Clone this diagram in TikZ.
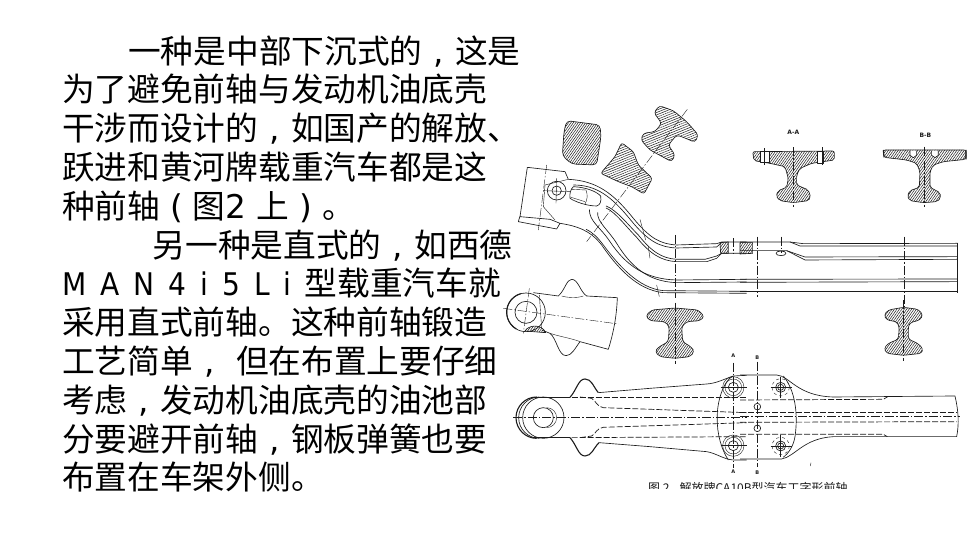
\documentclass[tikz,border=0pt]{standalone}
\usepackage{fontspec}
\setmainfont{Noto Sans CJK SC}
\newfontfamily\lat{DejaVu Sans}
\newfontfamily\latn[FakeStretch=0.9,Scale=1.2]{DejaVu Sans}
\usetikzlibrary{patterns.meta}
\newcommand\cmm{\makebox[1em][c]{\lat ,}}
\newcommand\lpn{\makebox[1em][c]{\lat (}}
\newcommand\rpn{\makebox[1em][c]{\lat )}}
\definecolor{ink}{HTML}{1C1C1C}
\tikzset{
  para/.style={anchor=base west,inner sep=0pt,font=\fontsize{32.7pt}{39pt}\selectfont,text=black},
  ln/.style={draw=ink,line width=.65pt,line join=round},
  thk/.style={draw=ink,line width=1.1pt,line join=round},
  fine/.style={draw=ink,line width=.4pt},
  cl/.style={draw=ink,line width=.4pt,dash pattern=on 9pt off 2pt on 1.5pt off 2pt},
  dsh/.style={draw=ink,line width=.7pt,dash pattern=on 6pt off 2pt},
  hatch/.style={ln,pattern={Lines[angle=55,distance=2pt,line width=.5pt]},pattern color=ink},
  hatchb/.style={ln,pattern={Lines[angle=22,distance=2.2pt,line width=.5pt]},pattern color=ink},
  lbl/.style={inner sep=0pt,font=\lat\bfseries\fontsize{5pt}{6pt}\selectfont,text=ink},
  Za/.style={shift={(500,90)},x=.3333pt,y=-.3333pt},
  Zb/.style={shift={(740,110)},x=.3333pt,y=-.3333pt},
  Zc/.style={shift={(500,270)},x=.3333pt,y=-.3333pt},
  Zd/.style={shift={(740,300)},x=.3333pt,y=-.3333pt},
}
\begin{document}
\begin{tikzpicture}[x=1pt,y=-1pt]
\useasboundingbox (0,0) rectangle (980,551);
\fill[white] (0,0) rectangle (980,551);
% text
\node[para] (t1) at (128,63.5) {一种是中部下沉式的\cmm 这是};
\node[para] (t2) at (62,102) {为了避免前轴与发动机油底壳};
\node[para] (t3) at (62,140.6) {干涉而设计的\cmm 如国产的解放、};
\node[para] (t4) at (62,179.4) {跃进和黄河牌载重汽车都是这};
\node[para] (t5) at (62,218.2) {种前轴\lpn 图{\lat 2 }上\rpn 。};
\node[para] (t6) at (152.5,257) {另一种是直式的\cmm 如西德};
\node[para] (t7) at (62,295.8) {{\latn\fontsize{26pt}{32pt}\selectfont\spaceskip=14pt M A N 4 i 5 L i}\hspace{13pt}型载重汽车就};
\node[para] (t8) at (62,334.6) {采用直式前轴。这种前轴锻造};
\node[para] (t9) at (62,373.4) {工艺简单\cmm{\lat\ }但在布置上要仔细};
\node[para] (t10) at (62,412.2) {考虑\cmm 发动机油底壳的油池部};
\node[para] (t11) at (62,451) {分要避开前轴\cmm 钢板弹簧也要};
\node[para] (t12) at (62,489.8) {布置在车架外侧。};
% upper-left sections and bent beam
\begin{scope}[Za]
\path[hatch,rounded corners=4pt] (200,92) -- (300,105) -- (303,140) -- (290,225) -- (215,222) -- (187,197) -- (192,125) -- cycle;
\path[hatchb,rounded corners=2.5pt] (365,158) -- (400,185) -- (415,225) -- (457,265) -- (432,312) -- (395,290) -- (355,275) -- (302,250) -- (345,200) -- cycle;
\path[hatchb,rounded corners=3pt] (462,68) -- (478,47) -- (520,62) -- (560,95) -- (595,135) -- (585,157) -- (550,142) -- (530,135) -- (505,165) -- (525,195) -- (515,215) -- (450,180) -- (423,150) -- (430,130) -- (465,125) -- (485,100) -- cycle;
\draw[cl] (562,58) -- (260,455);
% head
\draw[ln] (195,245) -- (82,232) -- (60,380) -- (150,388) -- (180,400) -- (170,417) -- (55,395) -- (60,378);
\draw[ln] (195,245) -- (205,268);
\draw[fine] (205,268) -- (135,285) -- (130,350) -- (165,390);
\draw[cl] (140,225) -- (115,420);
\draw[ln] (170,302) circle[radius=28];
\draw[ln] (170,302) circle[radius=14];
\draw[fine] (130,302) -- (210,305) (170,265) -- (168,340);
\draw[ln] (220,290) .. controls (260,292) and (290,305) .. (302,318) .. controls (305,335) and (300,345) .. (290,348) .. controls (260,348) and (225,335) .. (210,325) .. controls (208,310) and (212,298) .. (220,290) -- cycle;
\draw[fine] (258,300) .. controls (264,315) and (262,330) .. (255,342);
\draw[fine] (215,298) -- (258,300) (213,322) -- (255,335);
% curves: upper channel
\draw[ln] (205,268) .. controls (290,272) and (340,310) .. (400,385) .. controls (450,445) and (480,462) .. (530,465) -- (650,461) -- (665,456) -- (740,456);
\draw[ln] (220,285) .. controls (290,285) and (335,320) .. (392,390) .. controls (445,455) and (480,472) .. (530,474) -- (650,471) -- (665,458);
\draw[ln] (318,348) .. controls (350,360) and (385,405) .. (415,435) .. controls (455,485) and (485,505) .. (530,508) -- (615,508) -- (650,498) -- (665,490) -- (740,490);
\draw[ln] (318,354) .. controls (345,365) and (378,410) .. (410,442) .. controls (450,492) and (485,513) .. (530,515) -- (620,515) -- (650,505) -- (665,490);
% lower channel
\draw[ln] (268,358) .. controls (268,395) and (300,410) .. (330,455) .. controls (380,530) and (440,568) .. (530,570) -- (740,568);
\draw[ln] (293,367) .. controls (290,395) and (325,420) .. (350,460) .. controls (390,525) and (440,575) .. (530,578) -- (740,576);
\draw[ln] (180,400) .. controls (230,408) and (270,420) .. (305,465) .. controls (350,530) and (410,600) .. (490,608) -- (740,610);
\draw[ln] (258,418) .. controls (280,428) and (295,445) .. (310,465) .. controls (355,525) and (415,595) .. (490,602) -- (740,604);
\draw[fine] (420,388) -- (437,450) (445,470) -- (450,505) (470,585) -- (478,620);
\draw[cl] (527,435) -- (527,625);
\draw[cl] (700,445) -- (700,492);
\path[hatch] (660,458) -- (685,456) -- (685,490) -- (662,490) -- cycle;
\end{scope}
% straight beam + A-A B-B sections
\begin{scope}[Zb]
\node[lbl,font=\lat\bfseries\fontsize{6pt}{7pt}\selectfont] (aa) at (160,68) {A-A};
\node[lbl,font=\lat\bfseries\fontsize{6pt}{7pt}\selectfont] (bb) at (556,76) {B-B};
\path[hatch,rounded corners=2pt] (38,125) -- (283,123) -- (283,150) -- (215,160) -- (180,175) -- (170,195) -- (170,225) -- (205,240) -- (212,262) -- (205,272) -- (160,278) -- (120,272) -- (108,258) -- (115,242) -- (140,232) -- (145,205) -- (135,170) -- (90,160) -- (42,152) -- cycle;
\path[fill=white,ln] (60,125) rectangle (88,158);
\path[fill=white,ln] (233,125) rectangle (250,160);
\draw[cl] (160,112) -- (160,290);
\draw[fine] (73,115) -- (73,165) (248,112) -- (248,165);
\path[hatch,rounded corners=2pt] (430,120) -- (678,120) -- (678,148) -- (610,155) -- (580,165) -- (570,185) -- (570,232) -- (600,248) -- (602,265) -- (590,275) -- (550,278) -- (510,272) -- (502,258) -- (510,242) -- (538,232) -- (540,185) -- (530,160) -- (500,150) -- (432,142) -- cycle;
\draw[thk] (430,120) -- (432,142) (678,120) -- (678,148);
\path[fill=white,ln] (510,122) -- (510,136) -- (520,143) -- (530,136) -- (530,122);
\path[fill=white,ln] (575,122) -- (575,136) -- (585,143) -- (595,136) -- (595,122);
\draw[cl] (553,110) -- (553,290);
% beam lines
\draw[ln] (0,396) -- (150,396) -- (180,408) -- (652,408);
\draw[ln] (150,396) -- (190,401) -- (652,400);
\draw[ln] (0,422) -- (140,422) -- (195,450) -- (652,448);
\draw[ln] (140,422) -- (195,441) -- (652,440);
\draw[ln] (0,508) -- (652,507);
\draw[ln] (0,517) -- (652,515);
\draw[thk] (0,545) -- (655,545);
\draw[ln] (652,398) -- (652,550);
\path[hatch] (0,398) -- (38,398) -- (38,430) -- (0,432) -- cycle;
\draw[ln,fill=white] (123,430) ellipse[x radius=15,y radius=7];
\draw[cl] (53,380) -- (53,560);
\draw[cl] (123,380) -- (123,428);
\draw[cl] (492,380) -- (492,592);
\end{scope}
% middle I section, end views
\begin{scope}[Zc]
\path[hatch,rounded corners=3pt] (437,138) -- (455,120) -- (525,114) -- (595,120) -- (613,140) -- (600,152) -- (560,155) -- (545,170) -- (548,215) -- (575,232) -- (583,245) -- (570,260) -- (525,265) -- (480,260) -- (465,245) -- (475,232) -- (505,215) -- (508,170) -- (495,155) -- (450,152) -- cycle;
\draw[cl] (525,98) -- (525,282);
% side view of the end
\draw[ln] (78,127) circle[radius=58];
\draw[thk] (62,71) arc[start angle=254,end angle=120,radius=58];
\draw[ln] (78,127) circle[radius=33];
\draw[ln] (100,68) -- (175,78) .. controls (195,60) and (200,28) .. (215,28) .. controls (235,28) and (240,65) .. (260,78) -- (352,83) .. controls (350,140) and (340,190) .. (325,238) -- (240,215) .. controls (225,235) and (215,257) .. (198,257) .. controls (175,257) and (170,205) .. (150,190) -- (125,180);
\draw[fine] (185,78) .. controls (205,84) and (235,84) .. (250,78);
\draw[fine] (150,190) .. controls (180,200) and (215,205) .. (240,215);
\draw[cl] (10,115) -- (355,162);
\draw[cl] (88,55) -- (70,190);
\draw[fine] (118,75) -- (125,175);
\path[hatch] (75,183) .. controls (85,165) and (125,160) .. (137,188) -- cycle;
% plan view of the axle
\draw[ln] (130,443) circle[radius=62];
\draw[ln] (118,381) arc[start angle=270,end angle=90,radius=62];
\draw[thk] (110,381) arc[start angle=270,end angle=90,radius=62];
\draw[ln] (130,443) circle[radius=30];
\draw[fine] (140,413) arc[start angle=270,end angle=450,radius=30];
\draw[ln] (100,382) -- (210,382);
\draw[thk] (210,382) .. controls (230,360) and (235,327) .. (255,327) .. controls (275,327) and (280,350) .. (295,368);
\draw[ln] (295,368) -- (450,355) -- (620,342) .. controls (650,340) and (670,328) .. (700,318) -- (740,316);
\draw[ln] (100,503) -- (210,503);
\draw[thk] (210,503) .. controls (230,525) and (235,558) .. (255,558) .. controls (275,558) and (280,535) .. (297,518);
\draw[ln] (297,518) -- (450,530) -- (620,545) .. controls (650,550) and (670,568) .. (700,570) -- (740,570);
\draw[ln] (700,318) .. controls (670,330) and (650,400) .. (652,443) .. controls (650,490) and (665,540) .. (685,570);
\draw[dsh] (215,383) -- (740,383);
\draw[dsh] (240,381) -- (275,385) .. controls (290,395) and (290,410) .. (310,413) -- (740,428);
\draw[dsh] (240,503) -- (275,498) .. controls (290,490) and (285,478) .. (310,472) -- (740,458);
\draw[dsh] (215,503) -- (740,500);
\draw[cl] (40,443) -- (740,443);
\draw[cl] (700,278) -- (700,595);
\foreach \yy in {352,527}{
  \draw[ln] (700,\yy) circle[radius=15];
  \draw[fine] (700,\yy) circle[radius=25];
  \draw[fine] (700,\yy) circle[radius=32];
  \draw[fine] (662,\yy) -- (740,\yy);
}
\node[lbl] (a1) at (700,258) {A};
\node[lbl] (a2) at (700,605) {A};
\end{scope}
\begin{scope}[Zd]
\path[hatch,rounded corners=3pt] (432,45) -- (445,30) -- (490,22) -- (535,28) -- (549,45) -- (540,60) -- (510,68) -- (505,80) -- (505,118) -- (530,128) -- (549,145) -- (545,160) -- (490,166) -- (440,160) -- (432,145) -- (445,130) -- (475,118) -- (478,80) -- (470,65) -- (440,60) -- cycle;
\draw[cl] (491,0) -- (491,182);
% plan view right part
\draw[ln] (0,225) -- (110,225) .. controls (150,228) and (170,288) .. (280,291) -- (645,288) .. controls (655,330) and (658,370) .. (650,410) -- (435,410) -- (280,410) .. controls (190,415) and (165,470) .. (125,477) -- (0,477);
\draw[ln] (130,228) .. controls (165,270) and (175,340) .. (165,410) .. controls (160,440) and (145,460) .. (130,472);
\draw[dsh] (0,300) -- (430,298) -- (445,289);
\draw[dsh] (0,337) -- (650,337);
\draw[dsh] (0,367) -- (650,365);
\draw[dsh] (0,403) -- (430,403) -- (442,410);
\draw[cl] (0,350) -- (660,350);
\draw[cl] (52,185) -- (52,500);
\foreach \yy in {262,438}{
  \draw[ln] (122,\yy) circle[radius=15];
  \draw[ln] (122,\yy) circle[radius=9];
  \draw[fine,dashed] (122,\yy) circle[radius=26];
  \draw[fine] (92,\yy) -- (155,\yy) (122,\yy-32) -- (122,\yy+32);
}
\draw[ln] (52,320) circle[radius=10];
\draw[ln] (52,385) circle[radius=10];
\draw[fine] (213,488) -- (211,498);
\node[lbl] (b1) at (52,172) {B};
\node[lbl] (b2) at (52,518) {B};
\end{scope}
% caption, cut by the lower edge of the scan
\begin{scope}
\clip (640,478) rectangle (870,488);
\node[anchor=base west,inner sep=0pt,font=\fontsize{12pt}{14pt}\selectfont,text=ink] (cap) at (648,492.5) {图 2\hspace{10pt}解放牌CA10B型汽车工字形前轴};
\end{scope}
\end{tikzpicture}
\end{document}
